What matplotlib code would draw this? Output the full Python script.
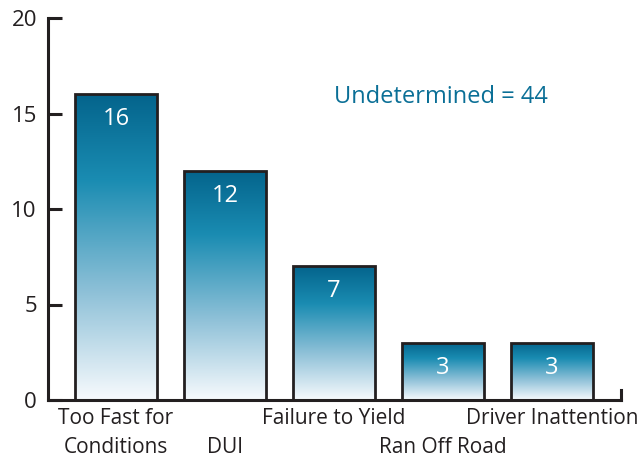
import numpy as np
import matplotlib
matplotlib.use("Agg")
import matplotlib.pyplot as plt
from matplotlib.colors import LinearSegmentedColormap

plt.rcParams['font.family'] = ['Open Sans', 'DejaVu Sans']

causes = ["Too Fast for\nConditions", "DUI", "Failure to Yield", "Ran Off Road", "Driver Inattention"]
counts = [16, 12, 7, 3, 3]
undetermined = 44

dark = '#231f20'
teal = '#0a6f96'

# bottom (white) -> top (dark teal)
cmap = LinearSegmentedColormap.from_list(
    'fade', [(0.0, '#f7fafd'), (0.35, '#8fc1d8'), (0.72, '#1a8cb2'), (1.0, '#04648c')])

fig = plt.figure(figsize=(6.42, 4.55), dpi=100)
ax = fig.add_axes([48/642, 55/455, (621-48)/642, 382/455])

x = np.arange(len(causes))
bars = ax.bar(x, counts, width=0.752, facecolor='none', edgecolor=dark, linewidth=2, zorder=3)

grad = np.linspace(0, 1, 256).reshape(-1, 1)
for b in bars:
    x0, w, h = b.get_x(), b.get_width(), b.get_height()
    im = ax.imshow(grad, cmap=cmap, origin='lower', aspect='auto',
                   extent=[x0, x0 + w, 0, h], zorder=2)
    im.set_clip_path(b)
    ax.annotate(str(int(h)), (x0 + w/2, h), xytext=(0, -18), textcoords='offset points',
                ha='center', va='center', color='white', fontsize=17, zorder=4)

ax.set_xlim(-0.624, 4.633)
ax.set_ylim(0, 20)
ax.set_yticks([0, 5, 10, 15, 20])

labels = []
for i, c in enumerate(causes):
    labels.append(c if i % 2 == 0 else "\n" + c)
ax.set_xticks(x)
ax.set_xticklabels(labels, linespacing=1.45)
ax.set_xticks([1, 3], minor=True)

ax.tick_params(axis='x', which='major', length=0, pad=6, labelsize=15, labelcolor=dark)
ax.tick_params(axis='x', which='minor', length=20, width=1.6, color='#959595', direction='out')
ax.tick_params(axis='y', length=10, width=2.2, direction='in', color=dark,
               labelsize=16, labelcolor=dark, pad=8)

for s in ['top', 'right']:
    ax.spines[s].set_visible(False)
for s in ['left', 'bottom']:
    ax.spines[s].set_linewidth(2.2)
    ax.spines[s].set_color(dark)

# little closing tick at the right end of the baseline
ax.axvline(4.633, ymin=0, ymax=0.027, color=dark, linewidth=2.2, clip_on=False)

ax.text(0.686, 0.793, "Undetermined = %d" % undetermined, transform=ax.transAxes,
        ha='center', va='center', color=teal, fontsize=17)

fig.savefig("out.png", dpi=100)
